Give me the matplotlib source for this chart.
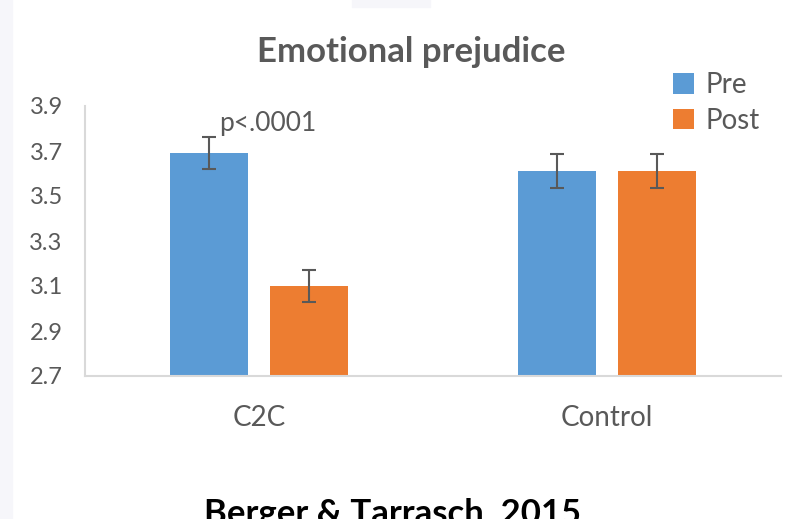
import numpy as np
import matplotlib.pyplot as plt
from matplotlib.patches import Rectangle

categories = ["C2C", "Control"]
series = ["Pre", "Post"]
pre_values = [3.69, 3.61]
post_values = [3.10, 3.61]
pre_errors = [0.072, 0.076]
post_errors = [0.072, 0.076]
y_ticks = [2.7, 2.9, 3.1, 3.3, 3.5, 3.7, 3.9]


def main():
    plt.rcParams["font.family"] = ["Lato", "DejaVu Sans"]
    gray = "#595959"

    fig = plt.figure(figsize=(7.93, 5.19), dpi=100)
    # faint slide background bits
    fig.patches.append(Rectangle((0, 0), 12 / 793, 1, transform=fig.transFigure,
                                 color="#f6f6fa", zorder=0))
    fig.patches.append(Rectangle((352 / 793, 1 - 7 / 519), 78 / 793, 7 / 519,
                                 transform=fig.transFigure, color="#f6f6fa", zorder=0))

    ax = fig.add_axes([85 / 793, 1 - 376 / 519, (781 - 85) / 793, 270 / 519])
    x = np.arange(len(categories))
    width = 0.225
    offset = 0.144
    err_kw = dict(ecolor=gray, elinewidth=1.5, capsize=5, capthick=1.5)
    ax.bar(x - offset, pre_values, width, yerr=pre_errors, color="#5B9BD5",
           label=series[0], error_kw=err_kw)
    ax.bar(x + offset, post_values, width, yerr=post_errors, color="#ED7D31",
           label=series[1], error_kw=err_kw)

    ax.set_xlim(-0.5, 1.5)
    ax.set_ylim(2.7, 3.9)
    ax.set_yticks(y_ticks)
    ax.set_yticklabels([f"{t:.1f}" for t in y_ticks])
    ax.set_xticks(x)
    ax.set_xticklabels(categories)
    ax.tick_params(axis="y", length=0, pad=16, labelsize=17, labelcolor=gray)
    ax.tick_params(axis="x", length=0, pad=21, labelsize=20, labelcolor=gray)
    for side in ("top", "right"):
        ax.spines[side].set_visible(False)
    for side in ("left", "bottom"):
        ax.spines[side].set_color("#d9d9d9")
        ax.spines[side].set_linewidth(1.5)

    ax.text(x[0] - offset + 0.17, 3.82, "p<.0001", fontsize=19, color=gray,
            ha="center", va="center")

    fig.text(0.519, 1 - 52 / 519, "Emotional prejudice", fontsize=25,
             fontweight="bold", color=gray, ha="center", va="center")
    fig.legend(loc="upper left", bbox_to_anchor=(662 / 793, 1 - 61 / 519),
               frameon=False, fontsize=20, labelcolor=gray, handlelength=0.75,
               handleheight=0.75, handletextpad=0.4, labelspacing=0.35,
               borderaxespad=0)
    fig.text(0.495, 1 - 524 / 519, "Berger & Tarrasch, 2015", fontsize=25,
             fontweight="bold", color="black", ha="center", va="baseline")

    fig.savefig("out.png", dpi=100)
    plt.close(fig)


if __name__ == "__main__":
    main()
